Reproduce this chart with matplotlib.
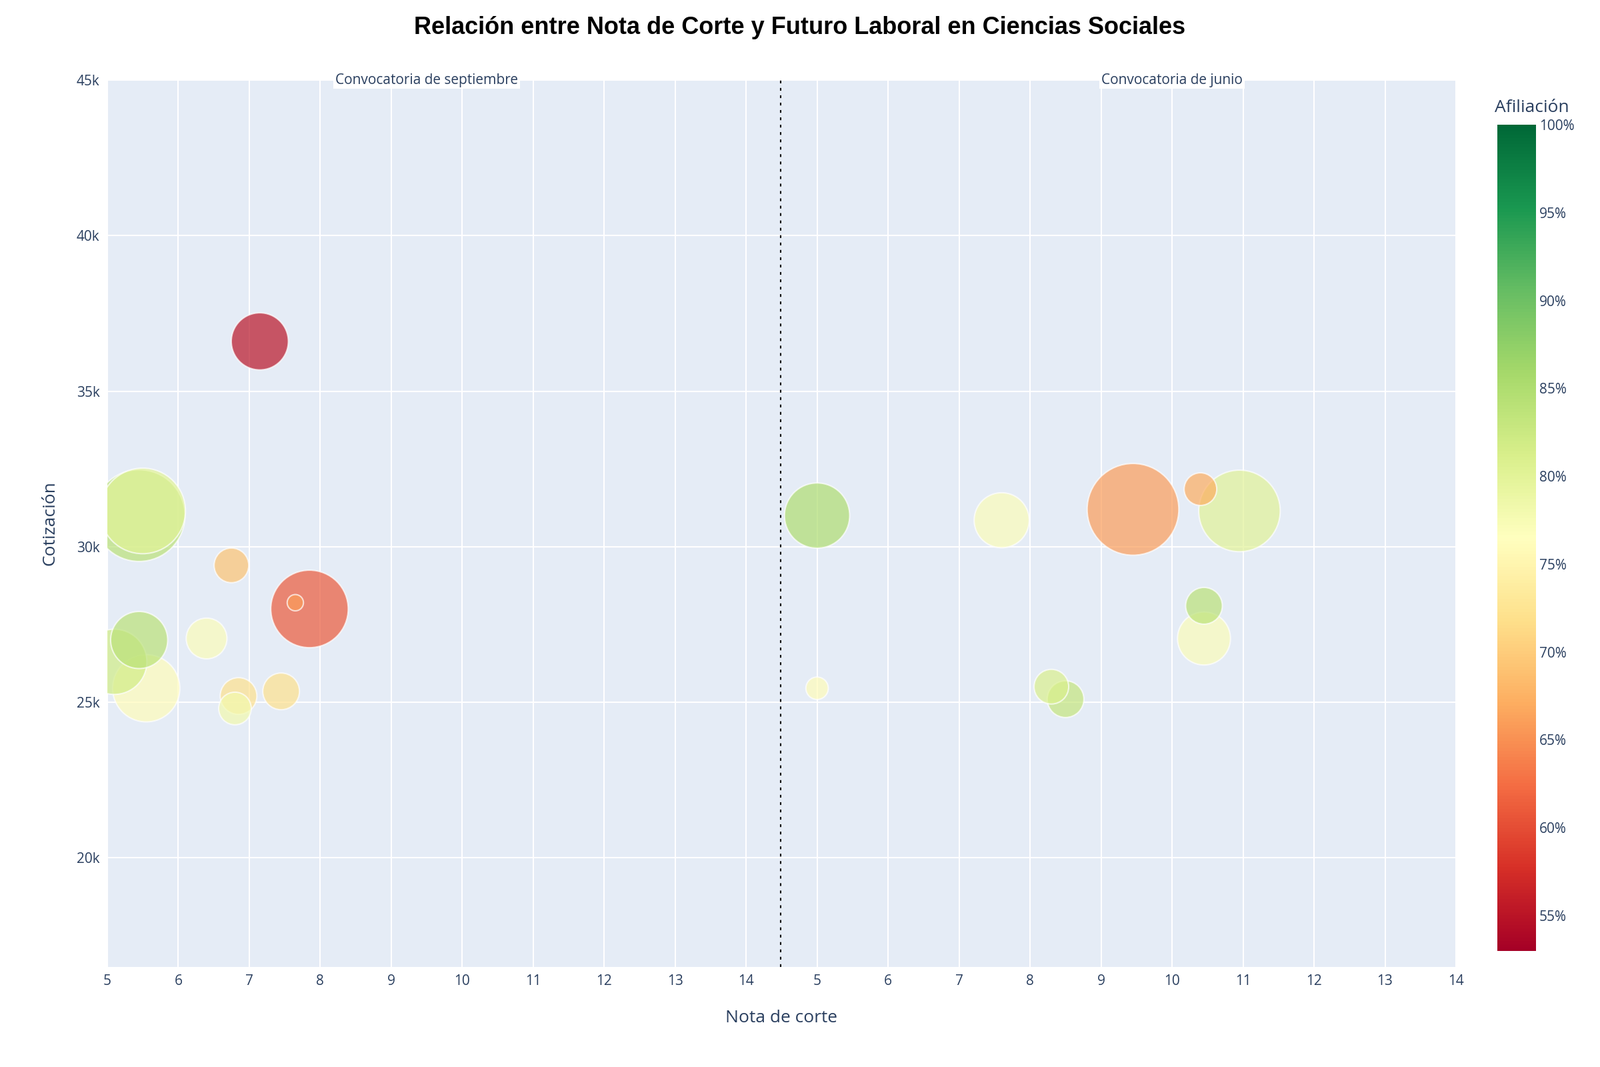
import matplotlib
matplotlib.use("Agg")
import matplotlib.pyplot as plt
import numpy as np
from matplotlib.ticker import FuncFormatter

plt.rcParams["font.family"] = "Open Sans"

# convocatoria de septiembre
sep_nota = [7.15, 5.45, 5.5, 6.75, 7.85, 7.65, 5.45, 6.4, 5.1, 5.55, 6.85, 6.8, 7.45]
sep_cotiz = [36600, 31000, 31150, 29400, 28000, 28200, 27000, 27050, 26300, 25450, 25200, 24800, 25350]
sep_radio = [28, 45, 42, 17, 38, 8, 28, 20, 32, 33, 18, 16, 18]
sep_afil = [55, 84, 80, 69, 61, 66, 84, 77, 82, 76, 72, 78, 72]

# convocatoria de junio
jun_nota = [5.0, 5.0, 7.6, 9.45, 10.4, 10.95, 10.45, 10.45, 8.3, 8.5]
jun_cotiz = [31000, 25450, 30850, 31200, 31850, 31150, 28100, 27050, 25500, 25100]
jun_radio = [32, 11, 27, 45, 16, 40, 18, 26, 17, 18]
jun_afil = [85, 76, 77, 66, 67, 80, 84, 77, 81, 83]

vmin, vmax = 53, 100
cmap = plt.get_cmap("RdYlGn")

fig = plt.figure(figsize=(24, 16), dpi=100)
W = 0.910 - 0.067
ax1 = fig.add_axes([0.067, 0.094, W / 2, 0.831])
ax2 = fig.add_axes([0.067 + W / 2, 0.094, W / 2, 0.831], sharey=ax1)

panels = [(ax1, sep_nota, sep_cotiz, sep_radio, sep_afil, "Convocatoria de septiembre", (5, 14.5), 9.5),
          (ax2, jun_nota, jun_cotiz, jun_radio, jun_afil, "Convocatoria de junio", (4.5, 14), 10.0)]
for ax, x, y, r, c, lab, xlim, xlab in panels:
    ax.set_facecolor("#E5ECF6")
    ax.grid(color="white", linewidth=1.5)
    ax.set_axisbelow(True)
    order = np.argsort(r)[::-1]
    s = 4.84 * np.array(r, float) ** 2
    sc = ax.scatter(np.array(x)[order], np.array(y)[order], s=s[order],
                    c=np.array(c)[order], cmap=cmap, vmin=vmin, vmax=vmax,
                    alpha=0.7, edgecolors="white", linewidths=1.5, zorder=3)
    ax.set_xlim(*xlim)
    ax.set_xticks(range(5, 15))
    for sp in ax.spines.values():
        sp.set_visible(False)
    ax.tick_params(length=0, labelsize=15, colors="#2a3f5f", pad=8)
    ax.text(xlab, 45000, lab, ha="center", va="center",
            fontsize=15, color="#2a3f5f",
            bbox=dict(facecolor="white", edgecolor="none", pad=2), zorder=5)

ax1.set_ylim(16500, 45000)
ax1.set_yticks([20000, 25000, 30000, 35000, 40000, 45000])
ax1.yaxis.set_major_formatter(FuncFormatter(lambda v, p: f"{int(v/1000)}k"))
ax2.tick_params(axis="y", labelleft=False)
ax1.axvline(14.5, color="black", linestyle=":", linewidth=3, zorder=4)
ax1.set_ylabel("Cotización", fontsize=19, color="#2a3f5f", labelpad=20)
fig.text(0.067 + W / 2, 0.042, "Nota de corte", ha="center", fontsize=19, color="#2a3f5f")

fig.suptitle("Relación entre Nota de Corte y Futuro Laboral en Ciencias Sociales",
             fontsize=26, fontweight="bold", fontfamily="Liberation Sans", y=0.985)

cax = fig.add_axes([0.936, 0.109, 0.024, 0.774])
cb = fig.colorbar(sc, cax=cax)
cb.solids.set_alpha(1)
cb.outline.set_visible(False)
cb.set_ticks([55, 60, 65, 70, 75, 80, 85, 90, 95, 100])
cb.ax.set_yticklabels([f"{v}%" for v in range(55, 101, 5)])
cb.ax.tick_params(length=0, labelsize=15, colors="#2a3f5f")
fig.text(0.934, 0.895, "Afiliación", fontsize=19, color="#2a3f5f")

fig.savefig("out.png", dpi=100)
